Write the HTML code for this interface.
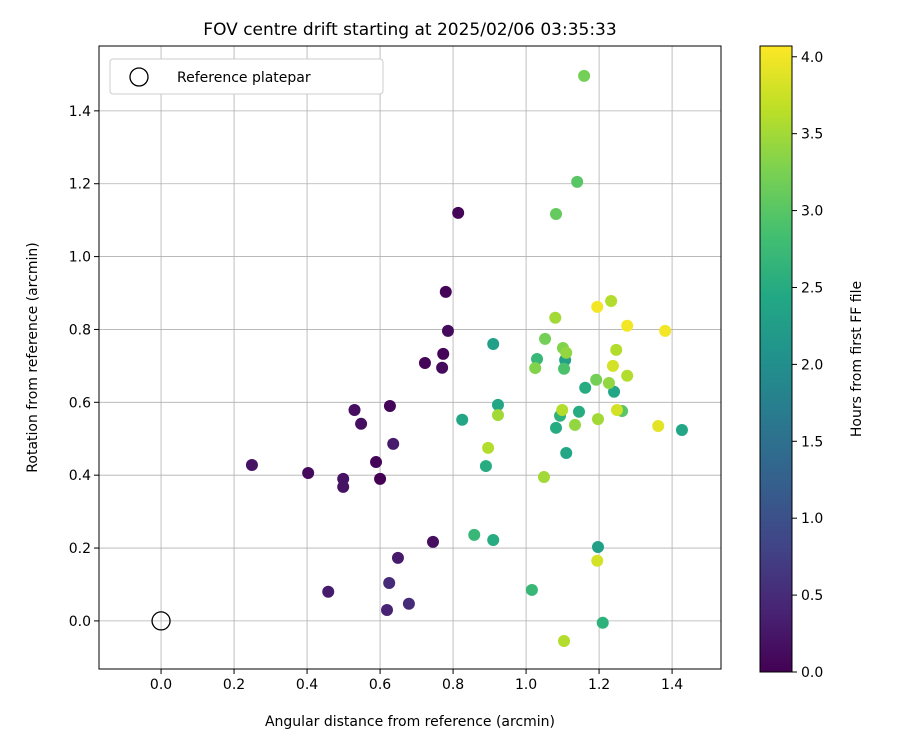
<!DOCTYPE html>
<html><head><meta charset="utf-8"><style>
body{margin:0;background:#fff;font-family:"DejaVu Sans","Liberation Sans",sans-serif;}
svg text{font-family:"DejaVu Sans","Liberation Sans",sans-serif;fill:#000}
</style></head><body>
<svg id="c" width="900" height="750" xmlns="http://www.w3.org/2000/svg"></svg>
<script>
const xs=[0.814,0.78,0.786,0.773,0.77,0.723,0.53,0.548,0.627,0.636,0.589,0.6,0.499,0.499,0.403,0.249,0.745,0.649,0.625,0.458,0.619,0.679,
0.91,0.825,0.923,0.89,0.858,0.91,1.016,1.03,1.107,1.104,1.162,1.241,1.145,1.082,1.11,1.427,1.197,1.21,1.093,
1.159,1.14,1.082,1.052,1.08,1.101,1.025,1.11,1.233,1.192,1.227,1.247,1.238,1.277,1.197,1.263,1.134,1.099,0.923,0.896,1.049,1.249,1.362,1.104,1.195,
1.195,1.277,1.381];
const ys=[1.12,0.903,0.796,0.733,0.695,0.708,0.579,0.541,0.59,0.486,0.436,0.39,0.39,0.368,0.406,0.428,0.217,0.173,0.104,0.08,0.03,0.047,
0.76,0.552,0.593,0.425,0.236,0.222,0.085,0.719,0.716,0.692,0.64,0.629,0.574,0.53,0.461,0.524,0.203,-0.005,0.563,
1.496,1.205,1.117,0.774,0.832,0.749,0.694,0.736,0.878,0.662,0.653,0.744,0.7,0.673,0.554,0.576,0.538,0.579,0.565,0.475,0.395,0.579,0.535,-0.055,0.165,
0.862,0.81,0.796];
const hours=[0.05,0.05,0.1,0.05,0.1,0.05,0.15,0.15,0.05,0.3,0.05,0.0,0.2,0.2,0.1,0.2,0.15,0.3,0.5,0.3,0.4,0.5,
2.3,2.4,2.4,2.5,2.7,2.5,2.7,2.7,2.3,2.9,2.5,2.4,2.5,2.5,2.4,2.4,2.3,2.6,2.6,
3.2,3.0,3.1,3.2,3.5,3.3,3.3,3.4,3.6,3.2,3.4,3.6,3.8,3.6,3.5,3.0,3.4,3.6,3.5,3.6,3.5,3.8,3.9,3.6,3.8,
4.0,4.0,4.0];
const xTicks=[0.0,0.2,0.4,0.6,0.8,1.0,1.2,1.4];
const yTicks=[0.0,0.2,0.4,0.6,0.8,1.0,1.2,1.4];
const cTicks=[0.0,0.5,1.0,1.5,2.0,2.5,3.0,3.5,4.0];
const NS="http://www.w3.org/2000/svg",svg=document.getElementById('c');
const L=99,R=721,T=46,B=669,xmin=-0.17,xmax=1.534,ymin=-0.132,ymax=1.578,cmax=4.07;
const X=v=>L+(v-xmin)/(xmax-xmin)*(R-L),Y=v=>B-(v-ymin)/(ymax-ymin)*(B-T);
const CT=46,CB=672,CY=v=>CB-v/cmax*(CB-CT);
const vir=["#440154","#482475","#414487","#355f8d","#2a788e","#21918c","#22a884","#44bf70","#7ad151","#bddf26","#fde725"];
function hex(h){return [1,3,5].map(i=>parseInt(h.substr(i,2),16));}
function cmap(t){t=Math.max(0,Math.min(1,t))*10;const i=Math.min(9,Math.floor(t)),f=t-i,a=hex(vir[i]),b=hex(vir[i+1]);return `rgb(${a.map((v,k)=>Math.round(v+(b[k]-v)*f)).join(',')})`;}
function el(tag,at,txt){const e=document.createElementNS(NS,tag);for(const k in at)e.setAttribute(k,at[k]);if(txt!==undefined)e.textContent=txt;svg.appendChild(e);return e;}
let e;
e=el('rect',{x:L,y:T,width:R-L,height:B-T,fill:'#fff'});

xTicks.forEach(v=>{const x=X(v);
e=el('line',{x1:x,x2:x,y1:T,y2:B,stroke:'#b0b0b0','stroke-width':0.8});
el('line',{x1:x,x2:x,y1:B,y2:B+5,stroke:'#000'});
e=el('text',{x:x,y:B+20,'font-size':14,'text-anchor':'middle'},v.toFixed(1));});
yTicks.forEach(v=>{const y=Y(v);
e=el('line',{x1:L,x2:R,y1:y,y2:y,stroke:'#b0b0b0','stroke-width':0.8});
el('line',{x1:L-5,x2:L,y1:y,y2:y,stroke:'#000'});
e=el('text',{x:L-8,y:y+5,'font-size':14,'text-anchor':'end'},v.toFixed(1));});
xs.forEach((v,i)=>{e=el('circle',{cx:X(v),cy:Y(ys[i]),r:6,fill:cmap(hours[i]/cmax)});
});
e=el('circle',{cx:X(0),cy:Y(0),r:9,fill:'none',stroke:'#000','stroke-width':1.3});
e=el('rect',{x:L,y:T,width:R-L,height:B-T,fill:'none',stroke:'#000','stroke-width':1});
e=el('rect',{x:110,y:59,width:273,height:35,rx:3,fill:'#fff',stroke:'#ccc'});
el('circle',{cx:139,cy:77,r:9,fill:'none',stroke:'#000','stroke-width':1.3});
e=el('text',{x:177,y:82,'font-size':14},'Reference platepar');
e=el('text',{x:410,y:35,'font-size':17,'text-anchor':'middle'},'FOV centre drift starting at 2025/02/06 03:35:33');
e=el('text',{x:410,y:726,'font-size':14,'text-anchor':'middle'},'Angular distance from reference (arcmin)');
e=el('text',{x:0,y:0,'font-size':14,'text-anchor':'middle',transform:`translate(37,${(T+B)/2}) rotate(-90)`},'Rotation from reference (arcmin)');
const defs=el('defs',{});const g=document.createElementNS(NS,'linearGradient');g.setAttribute('id','vg');g.setAttribute('x1','0');g.setAttribute('y1','1');g.setAttribute('x2','0');g.setAttribute('y2','0');defs.appendChild(g);
for(let i=0;i<=10;i++){const s=document.createElementNS(NS,'stop');s.setAttribute('offset',i/10);s.setAttribute('stop-color',vir[i]);g.appendChild(s);}
e=el('rect',{x:760,y:CT,width:32,height:CB-CT,fill:'url(#vg)',stroke:'#000','stroke-width':1});
cTicks.forEach(v=>{const y=CY(v);el('line',{x1:792,x2:797,y1:y,y2:y,stroke:'#000'});
e=el('text',{x:801,y:y+5,'font-size':14},v.toFixed(1));});
e=el('text',{x:0,y:0,'font-size':14,'text-anchor':'middle',transform:`translate(861,${(CT+CB)/2}) rotate(-90)`},'Hours from first FF file');
</script>
</body></html>
